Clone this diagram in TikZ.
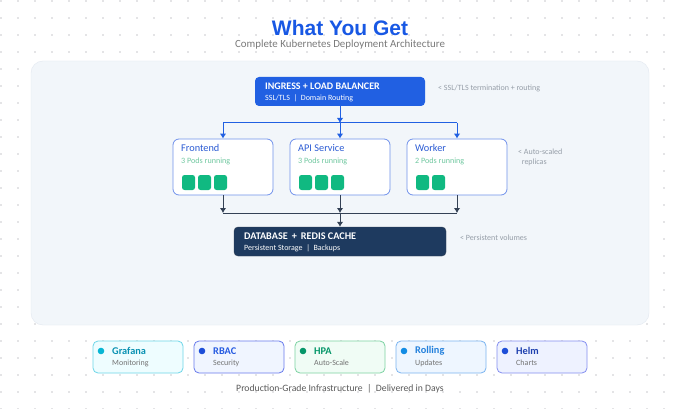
\documentclass[tikz,border=0pt]{standalone}
\usepackage{fontspec}
\setmainfont{Carlito}
\newfontfamily\titlefont{Liberation Sans}
\usepackage{xcolor}
\usepackage{tikz}
\usetikzlibrary{arrows.meta, calc}

\definecolor{titleblue}{RGB}{24,88,228}
\definecolor{ingblue}{RGB}{33,96,226}
\definecolor{panelbg}{RGB}{242,246,250}
\definecolor{panelline}{RGB}{226,232,240}
\definecolor{svcline}{RGB}{112,145,235}
\definecolor{svctext}{RGB}{44,92,212}
\definecolor{podtext}{RGB}{112,200,160}
\definecolor{podgreen}{RGB}{16,185,129}
\definecolor{navy}{RGB}{30,58,95}
\definecolor{navyline}{RGB}{52,65,85}
\definecolor{notegray}{RGB}{150,158,168}
\definecolor{dotgray}{RGB}{140,140,150}

\tikzset{
    svcbox/.style={draw=svcline, line width=0.8pt, fill=white, rounded corners=6pt,
        minimum width=100pt, minimum height=56pt, inner sep=0pt},
    svctitle/.style={anchor=west, font=\fontsize{10.3}{11}\selectfont, text=svctext, inner sep=0pt},
    svcsub/.style={anchor=west, font=\fontsize{8.1}{9}\selectfont, text=podtext, inner sep=0pt},
    podsq/.style={fill=podgreen, rounded corners=2.5pt, minimum width=13pt, minimum height=15pt, inner sep=0pt},
    annot/.style={anchor=west, font=\fontsize{8}{10}\selectfont, text=notegray, inner sep=0pt, align=left},
    upline/.style={draw=ingblue, line width=1pt},
    lowline/.style={draw=navyline, line width=1pt},
    tip/.style={-{Latex[length=5pt,width=6.5pt]}},
}

\begin{document}
\begin{tikzpicture}[x=1pt, y=-1pt]
    \useasboundingbox (0,0) rectangle (680,409);
    \fill[white] (0,0) rectangle (680,409);
    % --- DOT GRID ---
    \foreach \i in {0,...,40}
        \foreach \j in {0,...,24}
            \fill[dotgray] (1+17*\i, 1+17*\j) circle (0.6);

    % --- HEADER ---
    \node[font=\titlefont\bfseries\fontsize{21}{23}\selectfont, text=titleblue, inner sep=0pt] (title) at (340,28) {What You Get};
    \node[font=\fontsize{10.9}{12}\selectfont, text=black!52, inner sep=0pt] (subtitle) at (340,45) {Complete Kubernetes Deployment Architecture};

    % --- PANEL ---
    \draw[panelline, fill=panelbg, rounded corners=12pt] (31,61) rectangle (649,325);

    % --- INGRESS ---
    \node[fill=ingblue, rounded corners=4pt, minimum width=170pt, minimum height=29pt, inner sep=0pt] (ingress) at (340,91.5) {};
    \node[anchor=west, text=white, font=\bfseries\fontsize{10}{11}\selectfont, inner sep=0pt] (ingtitle) at (265,86) {INGRESS + LOAD BALANCER};
    \node[anchor=west, text=white, font=\fontsize{8}{9}\selectfont, inner sep=0pt] (ingsub) at (265,98.5) {SSL/TLS \ | \ Domain Routing};
    \node[annot] (ingnote) at (438,88) {< SSL/TLS termination + routing};

    % --- SERVICES ---
    \node[svcbox] (fe) at (223,167) {};
    \node[svcbox] (api) at (340,167) {};
    \node[svcbox] (wk) at (457,167) {};

    \node[svctitle] (fetitle) at (181,148) {Frontend};
    \node[svcsub] (fesub) at (181,161) {3 Pods running};
    \node[svctitle] (apititle) at (298,148) {API Service};
    \node[svcsub] (apisub) at (298,161) {3 Pods running};
    \node[svctitle] (wktitle) at (415,148) {Worker};
    \node[svcsub] (wksub) at (415,161) {2 Pods running};

    \foreach \k in {0,1,2} {
        \node[podsq] (fepod\k) at (188.5+16*\k,182.5) {};
        \node[podsq] (apipod\k) at (305.5+16*\k,182.5) {};
    }
    \foreach \k in {0,1}
        \node[podsq] (wkpod\k) at (422.5+16*\k,182.5) {};

    \node[annot] (svcnote) at (518,157) {< Auto-scaled\\ \ \ replicas};

    % --- UPPER CONNECTORS ---
    \coordinate (jtop) at (340,123);
    \draw[upline, tip] (ingress.south) -- (jtop);
    \draw[upline] (fe.north |- jtop) -- (wk.north |- jtop);
    \draw[upline, tip] (fe.north |- jtop) -- (fe.north);
    \draw[upline, tip] (jtop) -- (api.north);
    \draw[upline, tip] (wk.north |- jtop) -- (wk.north);

    % --- DATABASE ---
    \node[fill=navy, draw=navyline, rounded corners=4pt, minimum width=212pt, minimum height=29pt, inner sep=0pt] (db) at (340,241.5) {};
    \node[anchor=west, text=white, font=\bfseries\fontsize{10.2}{11}\selectfont, inner sep=0pt] (dbtitle) at (244,236) {DATABASE \,+\, REDIS CACHE};
    \node[anchor=west, text=white, font=\fontsize{8}{9}\selectfont, inner sep=0pt] (dbsub) at (244,248) {Persistent Storage \ | \ Backups};
    \node[annot] (dbnote) at (460,238) {< Persistent volumes};

    % --- LOWER CONNECTORS ---
    \coordinate (jlow) at (340,213);
    \draw[lowline, tip] (fe.south) -- (fe.south |- jlow);
    \draw[lowline, tip] (api.south) -- (jlow);
    \draw[lowline, tip] (wk.south) -- (wk.south |- jlow);
    \draw[lowline] (fe.south |- jlow) -- (wk.south |- jlow);
    \draw[lowline, tip] (jlow) -- (db.north);

    % --- FEATURE CARDS ---
    \foreach \x/\nm/\sub/\bd/\bg/\dt/\tt [count=\c] in {
        93/Grafana/Monitoring/{110,214,232}/{238,253,255}/{8,182,212}/{8,145,178},
        194/RBAC/Security/{104,122,236}/{240,245,255}/{29,78,216}/{37,90,225},
        295/HPA/Auto-Scale/{124,210,162}/{240,252,245}/{5,150,105}/{5,150,105},
        396/Rolling/Updates/{122,180,240}/{238,246,255}/{18,140,228}/{34,128,220},
        497/Helm/Charts/{132,142,240}/{238,242,255}/{29,78,216}/{30,64,175}} {
        \definecolor{cbd}{RGB}{\bd}
        \definecolor{cbg}{RGB}{\bg}
        \definecolor{cdt}{RGB}{\dt}
        \definecolor{ctt}{RGB}{\tt}
        \node[draw=cbd, fill=cbg, line width=0.8pt, rounded corners=5pt, minimum width=90pt, minimum height=32pt, inner sep=0pt] (card\c) at (\x+45,357) {};
        \fill[cdt] (\x+8,351) circle (3.3);
        \node[anchor=west, font=\bfseries\fontsize{10.3}{11}\selectfont, text=ctt, inner sep=0pt] (cardname\c) at (\x+19,351) {\nm};
        \node[anchor=west, font=\fontsize{8}{9}\selectfont, text=black!55, inner sep=0pt] (cardsub\c) at (\x+19,363) {\sub};
    }

    % --- FOOTER ---
    \node[font=\fontsize{9.7}{11}\selectfont, text=black!65, inner sep=0pt] (footer) at (340,389) {Production-Grade Infrastructure \ | \ Delivered in Days};
\end{tikzpicture}
\end{document}
